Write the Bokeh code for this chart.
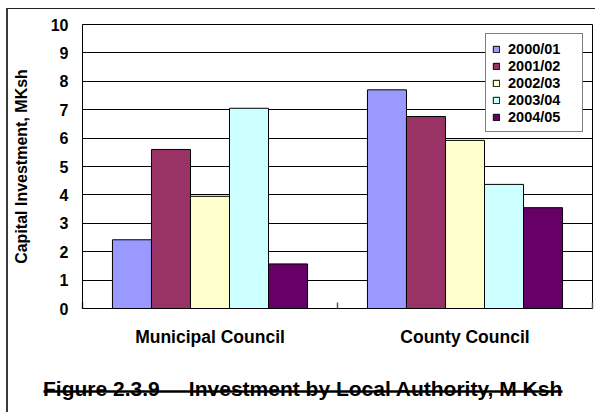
from bokeh.plotting import figure
from bokeh.layouts import column
from bokeh.models import (Range1d, FixedTicker, Legend, LegendItem, ColumnDataSource)
from bokeh.core.properties import value
from bokeh.embed import file_html
from bokeh.resources import INLINE

# ---- data ----
categories = ["Municipal Council", "County Council"]
years = ["2000/01", "2001/02", "2002/03", "2003/04", "2004/05"]
v2000_01 = [2.42, 7.70]
v2001_02 = [5.60, 6.76]
v2002_03 = [3.95, 5.92]
v2003_04 = [7.05, 4.37]
v2004_05 = [1.57, 3.55]
colors = ["#9999FF", "#993366", "#FFFFCC", "#CCFFFF", "#660066"]
y_ticks = [0, 1, 2, 3, 4, 5, 6, 7, 8, 9, 10]
y_label = "Capital Investment, MKsh"
title_text = "Figure 2.3.9\u00a0\u00a0\u00a0\u00a0 Investment by Local Authority, M Ksh"

FONT = "Liberation Sans"

series = [v2000_01, v2001_02, v2002_03, v2003_04, v2004_05]
n_cat = len(categories)
centers = [i + 0.5 for i in range(n_cat)]

# page offset of the canvas (outer chart frame drawn with CSS borders)
OFF_X, OFF_Y = 8, 9
W = 595 - OFF_X
H_CHART = 351
H_CAP = 412 - OFF_Y - H_CHART

p = figure(width=W, height=H_CHART,
           x_range=Range1d(0, n_cat), y_range=Range1d(0, 10),
           output_backend="svg", toolbar_location=None, frame_align=False,
           min_border_left=82 - OFF_X, min_border_right=3,
           min_border_top=24 - OFF_Y, min_border_bottom=OFF_Y + H_CHART - 308)
p.background_fill_color = "white"
p.border_fill_color = "white"
p.outline_line_color = "black"
p.outline_line_width = 1

bar_w = 0.153
renderers = []
for i, (yr, col, s) in enumerate(zip(years, colors, series)):
    src = ColumnDataSource(dict(x=[c + (i - 2) * bar_w for c in centers], top=s))
    r = p.vbar(x="x", top="top", width=bar_w, source=src, fill_color=col,
               line_color="black", line_width=1)
    renderers.append(r)

# axes
p.yaxis.ticker = FixedTicker(ticks=y_ticks)
p.yaxis.major_tick_out = 0
p.yaxis.major_tick_in = 0
p.yaxis.minor_tick_out = 0
p.yaxis.minor_tick_in = 0
p.yaxis.major_label_standoff = 14
p.yaxis.major_label_text_font = FONT
p.yaxis.major_label_text_font_style = "bold"
p.yaxis.major_label_text_font_size = "16px"
p.yaxis.major_label_text_color = "black"
p.yaxis.axis_line_color = "black"
p.yaxis.axis_label = y_label
p.yaxis.axis_label_text_font = FONT
p.yaxis.axis_label_text_font_style = "bold"
p.yaxis.axis_label_text_font_size = "16px"
p.yaxis.axis_label_text_color = "black"
p.yaxis.axis_label_standoff = 18

# category axis: labels at the centres, tick marks at the boundaries
p.xaxis.ticker = FixedTicker(ticks=centers, minor_ticks=list(range(n_cat + 1)))
p.xaxis.major_label_overrides = {c: name for c, name in zip(centers, categories)}
p.xaxis.major_tick_out = 0
p.xaxis.major_tick_in = 0
p.xaxis.minor_tick_out = 0
p.xaxis.minor_tick_in = 6
p.xaxis.minor_tick_line_color = "#555555"
p.xaxis.minor_tick_line_width = 1.5
p.xaxis.major_label_standoff = 18
p.xaxis.major_label_text_font = FONT
p.xaxis.major_label_text_font_style = "bold"
p.xaxis.major_label_text_font_size = "17.5px"
p.xaxis.major_label_text_color = "black"
p.xaxis.axis_line_color = "black"

p.xgrid.visible = False
p.ygrid.grid_line_color = "black"
p.ygrid.grid_line_width = 1

legend = Legend(items=[LegendItem(label=y, renderers=[r]) for y, r in zip(years, renderers)],
                location="top_right", margin=9, padding=6, spacing=0,
                label_height=17, glyph_height=8, glyph_width=8, label_standoff=8,
                label_width=68,
                label_text_font=FONT, label_text_font_style="bold",
                label_text_font_size="14.5px", label_text_color="black",
                border_line_color="black", border_line_width=1,
                background_fill_color="white", background_fill_alpha=1)
p.add_layout(legend)

# ---- caption strip: its frame covers the whole strip, in page pixel units ----
CAP_LEFT, CAP_RIGHT = 43, 562          # page x extent of the underline
BASELINE_Y = 388                        # page y of the caption baseline
UNDERLINE_Y = 391                       # page y of the underline
cap_top = OFF_Y + H_CHART
cap = figure(width=W, height=H_CAP, x_range=Range1d(OFF_X, 595),
             y_range=Range1d(cap_top + H_CAP, cap_top),
             x_axis_location=None, y_axis_location=None,
             output_backend="svg", toolbar_location=None, frame_align=False,
             min_border_left=0, min_border_right=0,
             min_border_top=0, min_border_bottom=0)
cap.outline_line_color = None
cap.background_fill_color = "white"
cap.border_fill_color = "white"
cap.grid.visible = False
cap.text(x=[(CAP_LEFT + CAP_RIGHT) / 2], y=[BASELINE_Y], text=[title_text],
         text_align="center", text_baseline="alphabetic", text_font=value(FONT),
         text_font_style="bold", text_font_size="21px", text_color="black")
cap.segment(x0=[CAP_LEFT], x1=[CAP_RIGHT], y0=[UNDERLINE_Y], y1=[UNDERLINE_Y],
            line_color="black", line_width=2.5)

layout = column(p, cap, spacing=0,
                styles={"margin-left": "6px", "margin-top": "8px",
                        "border-left": "2px solid #3a3a3a",
                        "border-top": "1px solid #222222"})

open("out.html", "w").write(file_html(layout, INLINE))
